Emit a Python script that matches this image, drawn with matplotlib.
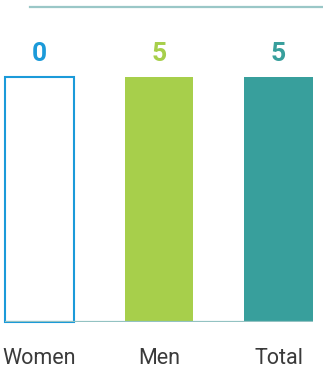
import matplotlib.pyplot as plt
from matplotlib.lines import Line2D

categories = ["Women", "Men", "Total"]
values = [0, 5, 5]
colors = ["#1b9ad9", "#a7cf4b", "#389f9c"]

plt.rcParams['font.family'] = ['Roboto', 'DejaVu Sans']

fig = plt.figure(figsize=(3.23, 3.91), dpi=100)
W, H = 323, 391
ax = fig.add_axes([5 / W, 69 / H, 308 / W, 245 / H])

x = list(range(len(categories)))
width = 0.575
top = max(values)

for i, v in enumerate(values):
    if v == 0:
        # empty placeholder box for a zero value
        ax.bar(i, top, width=width, facecolor="white", edgecolor=colors[i],
               linewidth=1.5, clip_on=False)
    else:
        ax.bar(i, v, width=width, color=colors[i], linewidth=0)
    ax.annotate(str(v), xy=(i, top), xytext=(0, 11.5), textcoords="offset points",
                ha="center", va="baseline", fontsize=19, fontweight="bold",
                color=colors[i], annotation_clip=False)
    ax.annotate(categories[i], xy=(i, 0), xytext=(0, -30), textcoords="offset points",
                ha="center", va="baseline", fontsize=15.5, color="#3a3a3a",
                annotation_clip=False)

ax.axhline(0, color="#93c2c2", linewidth=1.6, zorder=3)
ax.set_xlim(-width / 2, len(categories) - 1 + width / 2)
ax.set_ylim(0, top)
ax.axis("off")

fig.add_artist(Line2D([30 / W, 1], [1 - 7 / H, 1 - 7 / H], color="#9ac7c7", linewidth=1.6))

fig.savefig("out.png", dpi=100)
